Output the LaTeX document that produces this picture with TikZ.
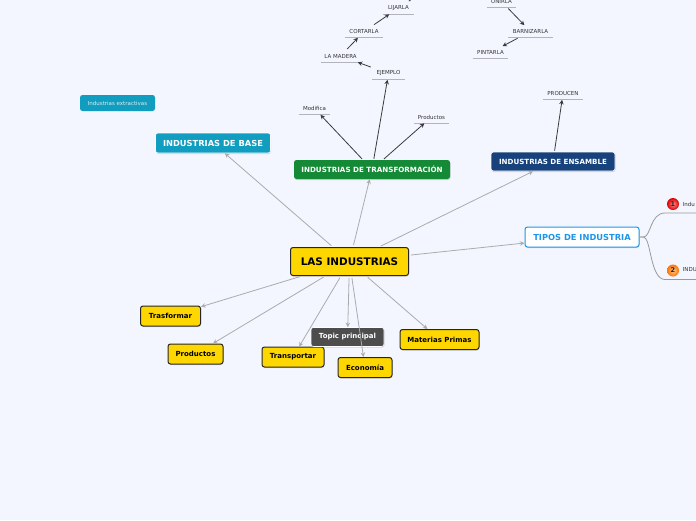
\documentclass[tikz,border=0pt]{standalone}
\usepackage{fontspec}
\setmainfont{DejaVu Sans}
\usetikzlibrary{arrows.meta, shadows}
\definecolor{pagebg}{HTML}{F3F6FF}
\definecolor{mainyellow}{HTML}{FFD700}
\definecolor{basecyan}{HTML}{119DBF}
\definecolor{transgreen}{HTML}{158A36}
\definecolor{ensblue}{HTML}{17427C}
\definecolor{tiposblue}{HTML}{1C96E8}
\definecolor{topicgray}{HTML}{4D4D4D}
\definecolor{linkgray}{HTML}{ABABAB}
\definecolor{leafdark}{HTML}{3A3A3A}
\definecolor{leafline}{HTML}{B3B3BD}

\begin{document}
\begin{tikzpicture}[x=1pt, y=-1pt, >={Stealth[length=4.5pt, width=4.5pt]}, semithick]
    \tikzset{box/.style={rectangle, rounded corners=2.5pt, align=center, font=\bfseries\fontsize{7}{8}\selectfont, inner sep=0pt},
        yellowbox/.style={box, draw=black!85, line width=1pt, fill=mainyellow, drop shadow={shadow xshift=0.5pt, shadow yshift=-1pt, opacity=0.25}},
        colorbox/.style={box, text=white, draw=white, line width=0.6pt, drop shadow={shadow xshift=0.5pt, shadow yshift=-1pt, opacity=0.3}},
        leaf/.style={rectangle, inner sep=0pt, minimum height=12pt, font=\fontsize{5.5}{6}\selectfont, text=black!80,
            append after command={(\tikzlastnode.south west) edge[leafline, line width=0.8pt] (\tikzlastnode.south east)}},
        link/.style={->, linkgray, line width=0.8pt, shorten <=2pt},
        leaflink/.style={->, leafdark, line width=0.8pt, shorten <=1pt},
        branch/.style={draw=linkgray!90!black, line width=0.8pt},
        badge/.style={circle, minimum size=12pt, inner sep=0pt, text=black!85, shading=radial, font=\bfseries\fontsize{6.5}{7}\selectfont}}
    \useasboundingbox (0, 0) rectangle (696, 520);
    \fill[pagebg] (0, 0) rectangle (696, 520);
    % centre
    \node[yellowbox, minimum width=118pt, minimum height=28pt, font=\bfseries\fontsize{10.4}{12}\selectfont] (main) at (349.5, 261.5) {LAS INDUSTRIAS};
    % top row
    \node[colorbox, fill=basecyan, minimum width=115pt, minimum height=20pt, font=\bfseries\fontsize{8.3}{10}\selectfont] (base) at (213, 143) {INDUSTRIAS DE BASE};
    \node[colorbox, fill=transgreen, draw=none, minimum width=156pt, minimum height=19pt, font=\bfseries\fontsize{7.15}{9}\selectfont] (trans) at (372, 169.5) {INDUSTRIAS DE TRANSFORMACIÓN};
    \node[colorbox, fill=ensblue, minimum width=124pt, minimum height=19pt, font=\bfseries\fontsize{7.1}{9}\selectfont] (ensamble) at (553, 161.5) {INDUSTRIAS DE ENSAMBLE};
    \node[box, fill=basecyan, text=white!85!basecyan, minimum width=75pt, minimum height=16pt, font=\fontsize{5.5}{6}\selectfont] (extract) at (117.5, 103) {Industrias extractivas};
    \node[box, fill=white, draw=tiposblue, text=tiposblue, line width=1pt, minimum width=114pt, minimum height=20pt, font=\bfseries\fontsize{8.3}{10}\selectfont, drop shadow={shadow xshift=0.5pt, shadow yshift=-1pt, opacity=0.25}] (tipos) at (582, 237) {TIPOS DE INDUSTRIA};
    % lower row
    \node[yellowbox, minimum width=60pt, minimum height=20pt] (trasformar) at (170.5, 316) {Trasformar};
    \node[yellowbox, minimum width=55pt, minimum height=20pt] (productos) at (195.5, 354) {Productos};
    \node[yellowbox, minimum width=62pt, minimum height=20pt] (transportar) at (293, 357) {Transportar};
    \node[colorbox, fill=topicgray, minimum width=73pt, minimum height=19pt] (topic) at (347.5, 337) {Topic principal};
    \node[yellowbox, minimum width=54pt, minimum height=20pt] (economia) at (365, 367.5) {Economía};
    \node[yellowbox, minimum width=79pt, minimum height=20pt] (materias) at (439.5, 339.5) {Materias Primas};
    % leaves
    \node[leaf, minimum width=31pt] (lijarla) at (398.5, 8) {LIJARLA};
    \node[leaf, minimum width=38pt] (cortarla) at (364, 31.5) {CORTARLA};
    \node[leaf, minimum width=39pt] (madera) at (340.5, 56) {LA MADERA};
    \node[leaf, minimum width=33pt] (ejemplo) at (388.5, 73.5) {EJEMPLO};
    \node[leaf, minimum width=31pt] (modifica) at (314.5, 108.5) {Modifica};
    \node[leaf, minimum width=35pt] (prodleaf) at (431.5, 117) {Productos};
    \node[leaf, minimum width=29pt] (unirla) at (501.5, 1.5) {UNIRLA};
    \node[leaf, minimum width=45pt] (barnizarla) at (530.5, 31.5) {BARNIZARLA};
    \node[leaf, minimum width=35pt] (pintarla) at (490.5, 52.5) {PINTARLA};
    \node[leaf, minimum width=40pt] (producen) at (563, 93.5) {PRODUCEN};
    \coordinate (offtop) at (424, -9);
    % links
    \foreach \target in {base, trans, ensamble, tipos, trasformar, productos, transportar, topic, economia, materias}
        \draw[link] (main) -- (\target);
    \draw[leaflink] (trans) -- (modifica);
    \draw[leaflink] (trans) -- (ejemplo);
    \draw[leaflink] (trans) -- (prodleaf);
    \draw[leaflink] (ejemplo) -- (madera);
    \draw[leaflink] (madera) -- (cortarla);
    \draw[leaflink] (cortarla) -- (lijarla);
    \draw[leaflink] (lijarla) -- (offtop);
    \draw[leaflink] (unirla) -- (barnizarla);
    \draw[leaflink] (barnizarla) -- (pintarla);
    \draw[leaflink] (ensamble) -- (producen);
    % numbered branches
    \node[badge, inner color=red!45!white, outer color=red!85!black] (one) at (673, 204) {1};
    \node[badge, inner color=orange!45!white, outer color=orange!90!red] (two) at (673, 270.5) {2};
    \node[right=0pt, inner sep=0pt, font=\fontsize{5.5}{6}\selectfont, text=black!80] (oneText) at (682.5, 204) {Indu};
    \node[right=0pt, inner sep=0pt, font=\fontsize{5.5}{6}\selectfont, text=black!80] (twoText) at (682.5, 270) {INDU};
    \coordinate (oneEnd) at (696, 213);
    \coordinate (twoEnd) at (696, 279.5);
    \draw[branch] (tipos.east) -- ++(4, 0) .. controls (651, 237) and (650, 213) .. (665, 213) -- (oneEnd);
    \draw[branch] (tipos.east) -- ++(4, 0) .. controls (651, 237) and (650, 279.5) .. (665, 279.5) -- (twoEnd);
\end{tikzpicture}
\end{document}
